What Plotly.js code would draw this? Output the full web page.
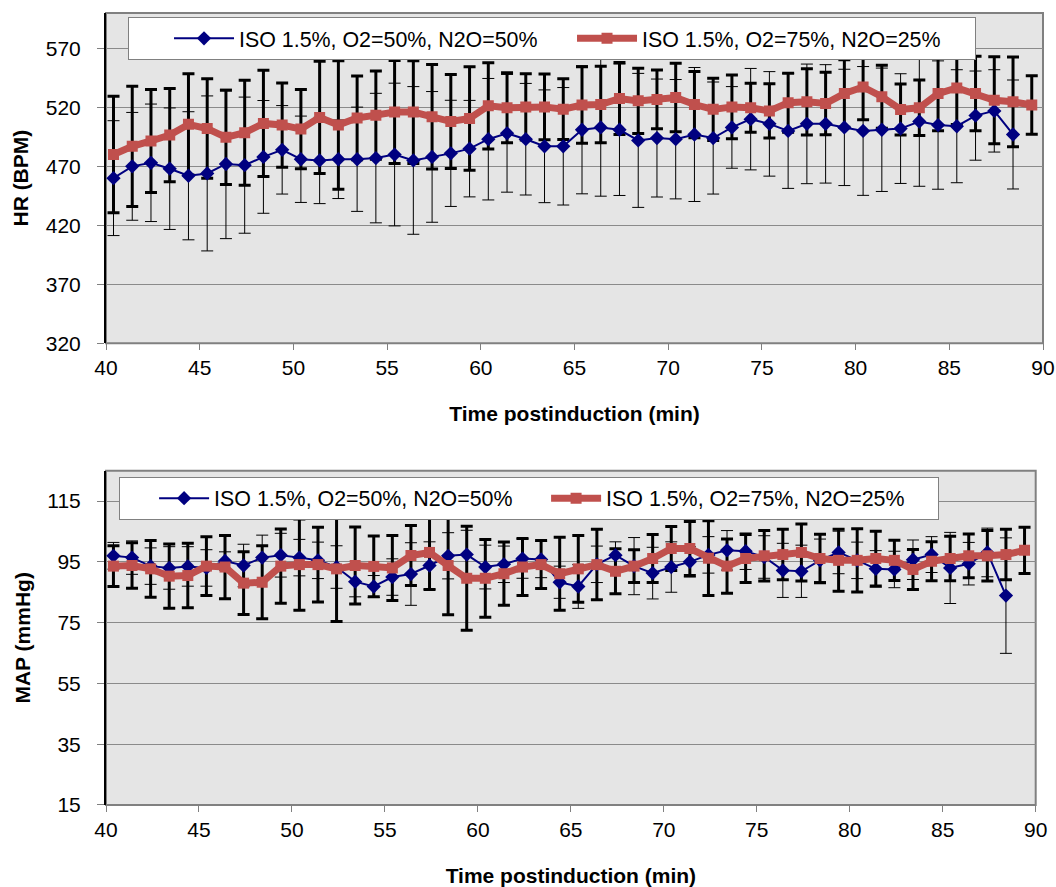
<!DOCTYPE html>
<html>
<head>
<meta charset="utf-8">
<script src="https://cdn.plot.ly/plotly-3.0.1.min.js"></script>
<style>html,body{margin:0;padding:0;background:#fff;}#chart{width:1056px;height:887px;}</style>
</head>
<body>
<div id="chart"></div>
<script>
// Time postinduction (min)
const timeMin = [40.4,41.4,42.4,43.4,44.4,45.4,46.4,47.4,48.4,49.4,50.4,51.4,52.4,53.4,54.4,55.4,56.4,57.4,58.4,59.4,
  60.4,61.4,62.4,63.4,64.4,65.4,66.4,67.4,68.4,69.4,70.4,71.4,72.4,73.4,74.4,75.4,76.4,77.4,78.4,79.4,
  80.4,81.4,82.4,83.4,84.4,85.4,86.4,87.4,88.4,89.4];
const timeMinBlue = timeMin.slice(0, 49);

const seriesNames = ['ISO 1.5%, O2=50%, N2O=50%', 'ISO 1.5%, O2=75%, N2O=25%'];

// HR (BPM)
const hrBlue = [460,470,473,468,462,464,472,471,478,484,476,475,476,476,477,480,475,478,481,485,
  493,498,493,487,487,501,503,501,492,494,493,497,494,503,510,506,500,506,506,503,
  500,501,502,508,505,504,513,517,497];
const hrBlueSd = [48.7,45.7,49.8,51.5,54.3,65.7,63.3,57.7,47.8,37.5,36.6,36.6,33.3,44.2,54.9,60.5,62.6,55.4,45,40.9,
  51.5,49.9,47.3,47.8,49.8,54.3,58.3,55.7,56.8,50,50.6,56.8,47.5,34.6,43,44.3,48.7,50.7,50.2,49.3,
  54.6,52.3,46.5,54.9,54.4,47.9,37.8,34.9,46.2];
const hrRed = [480,487,491.5,496.5,505.6,502,494.6,498.5,506.4,505,501.6,511.5,505,511,513.4,516,516,512,508,510.6,
  521.3,519.6,520.4,520.4,518.5,522,522.4,527.5,525.5,526.7,528.4,522.4,518.3,520.4,519.6,517,524,524.7,523.3,531.7,
  537.3,529,518.2,519.6,531.7,536.5,531.7,526,524.7,522];
const hrRedSd = [49.4,51,43.6,39.5,43,42.2,39.9,44.5,45,35.7,33.6,47.5,54.5,35.5,37.4,43.7,43.5,44.3,39.8,43.9,
  36.6,29.7,28.1,27.8,25.7,32.4,32.5,30.5,27.6,24.9,29.1,28.1,26.4,27,20.8,23,25,28.1,26.5,28.6,
  27.9,26.7,21.7,23.5,31.6,31,31.6,36.9,38,24.7];

// MAP (mmHg)
const mapBlue = [97,96.4,93.6,93,93.5,93,95.3,93.8,96.4,97.2,96.4,95.5,93.3,88.5,86.9,90,91,93.8,97,97.4,
  93.3,94.2,96.1,95.8,88.3,86.9,94.2,97.2,93.6,91.3,93.3,95,97.3,98.8,98.5,96.6,92.2,91.9,95.5,98.1,
  95.5,92.7,92.5,95.7,97.4,93,94.4,98.1,83.9];
const mapBlueSd = [4.4,5.5,6,7,6.5,6,3,7,7.4,7.2,6,6,7,5,3.6,6,10.3,7.8,7.6,8,
  7.2,6,6.5,6,5.3,7.2,6,4.4,9.4,8.5,8.3,5,6,6.5,6,7,8.9,8.6,7,7,
  6,6,6,6.5,5.9,11.7,7,8,19];
const mapRed = [93.6,93.8,92.7,90.3,90.5,93.6,93.3,88,88.3,93.6,94.1,94.1,92.7,93.8,93.5,93,97.1,98.1,93.8,89.6,
  89.6,91.1,93.3,94.1,91.1,92.7,94.1,91.9,93.6,96.1,99.4,99.4,96.2,93.6,96.1,97,97.4,98.1,96.1,95.5,
  95.5,96.1,95.5,92.5,95.2,96.1,97,97,97.4,98.8];
const mapRedSd = [6.7,7.5,9.3,10.6,10.6,9.7,10.4,10.3,12,12.2,15,12.3,17.3,12.7,10,10.7,9.9,12.2,16.2,17.1,
  12.8,10.4,9.4,7.9,12,11,11.6,7.4,5.4,7.9,7.2,8.9,12.3,8.9,7.9,8.3,8.3,9.4,8,10.2,
  10.4,9,6.6,6.6,6.4,7.3,7.2,8.3,8.3,7.6];

const hrTicks = [320,370,420,470,520,570];
const mapTicks = [15,35,55,75,95,115];
const xTicks = [40,45,50,55,60,65,70,75,80,85,90];

const FONT = 'Liberation Sans, Arial, sans-serif';
const BLUE = '#000080';
const RED = '#C0504D';

function errTrace(x, y, sd, thick, xa, ya) {
  return {
    x: x, y: y, xaxis: xa, yaxis: ya, type: 'scatter', mode: 'markers',
    marker: {size: 1, color: 'rgba(0,0,0,0)'}, showlegend: false, hoverinfo: 'skip',
    error_y: {type: 'data', array: sd, visible: true, color: '#000', thickness: thick ? 3 : 1, width: 6}
  };
}
function blueTrace(x, y, xa, ya, lg) {
  return {x: x, y: y, xaxis: xa, yaxis: ya, type: 'scatter', mode: 'lines+markers', name: seriesNames[0],
    legend: lg, line: {color: BLUE, width: 2}, marker: {symbol: 'diamond', size: 11, color: BLUE}};
}
function redTrace(x, y, xa, ya, lg) {
  return {x: x, y: y, xaxis: xa, yaxis: ya, type: 'scatter', mode: 'lines+markers', name: seriesNames[1],
    legend: lg, line: {color: RED, width: 7}, marker: {symbol: 'square', size: 11, color: RED}};
}

const data = [
  errTrace(timeMin, hrRed, hrRedSd, true, 'x', 'y'),
  errTrace(timeMinBlue, hrBlue, hrBlueSd, false, 'x', 'y'),
  blueTrace(timeMinBlue, hrBlue, 'x', 'y', 'legend'),
  redTrace(timeMin, hrRed, 'x', 'y', 'legend'),
  errTrace(timeMin, mapRed, mapRedSd, true, 'x2', 'y2'),
  errTrace(timeMinBlue, mapBlue, mapBlueSd, false, 'x2', 'y2'),
  blueTrace(timeMinBlue, mapBlue, 'x2', 'y2', 'legend2'),
  redTrace(timeMin, mapRed, 'x2', 'y2', 'legend2')
];

function xAxis(domainEnd, anchor, standoff) {
  return {
    domain: [0, domainEnd], anchor: anchor, range: [40, 90], tickvals: xTicks, ticktext: xTicks.map(String),
    ticks: 'outside', ticklen: 6, tickcolor: '#808080', tickwidth: 1,
    showgrid: false, zeroline: false, showline: false,
    tickfont: {family: FONT, size: 21, color: '#000'},
    title: {text: '<b>Time postinduction (min)</b>', font: {family: FONT, size: 21, color: '#000'}, standoff: standoff}
  };
}
function yAxis(domain, anchor, range, ticks, title) {
  return {
    domain: domain, anchor: anchor, range: range, tickvals: ticks, ticktext: ticks.map(String),
    ticks: 'outside', ticklen: 7, tickcolor: '#808080', tickwidth: 1, ticklabelstandoff: 12,
    showgrid: true, gridcolor: '#8a8a8a', gridwidth: 1, zeroline: false,
    showline: true, linecolor: '#000', linewidth: 2,
    tickfont: {family: FONT, size: 21, color: '#000'},
    title: {text: '<b>' + title + '</b>', font: {family: FONT, size: 21, color: '#000'}, standoff: 11}
  };
}

function legendFor(x, y, ew, iw, pad) {
  return {
    x: x, y: y, xanchor: 'left', yanchor: 'top',
    orientation: 'h', bgcolor: '#fff', bordercolor: '#808080', borderwidth: 1,
    font: {family: FONT, size: 21.4, color: '#000'}, itemwidth: iw, entrywidth: ew, traceorder: 'normal',
    title: {text: pad, side: 'left', font: {family: FONT, size: 21.4}}
  };
}

const layout = {
  width: 1056, height: 887,
  margin: {l: 105.7, r: 12.7, t: 13, b: 81.5},
  paper_bgcolor: '#fff', plot_bgcolor: '#E5E5E5',
  showlegend: true,
  xaxis: xAxis(1, 'y', 27),
  yaxis: yAxis([0.583, 1], 'x', [320, 600], hrTicks, 'HR (BPM)'),
  xaxis2: xAxis(0.9922, 'y2', 30),
  yaxis2: yAxis([0, 0.4221], 'x2', [15, 125], mapTicks, 'MAP (mmHg)'),
  legend: legendFor(0.0238, 0.995, 328, 60, '&nbsp;&nbsp;&nbsp;&nbsp;&nbsp;'),
  legend2: legendFor(0.0142, 0.4145, 327, 50, '&nbsp;&nbsp;&nbsp;&nbsp;'),
  shapes: [
    {type: 'rect', xref: 'x domain', yref: 'y domain', x0: 0, x1: 1, y0: 0, y1: 1, line: {color: '#808080', width: 2}, layer: 'below'},
    {type: 'rect', xref: 'x2 domain', yref: 'y2 domain', x0: 0, x1: 1, y0: 0, y1: 1, line: {color: '#808080', width: 2}, layer: 'below'}
  ]
};

Plotly.newPlot('chart', data, layout, {displayModeBar: false, staticPlot: true});
</script>
</body>
</html>
